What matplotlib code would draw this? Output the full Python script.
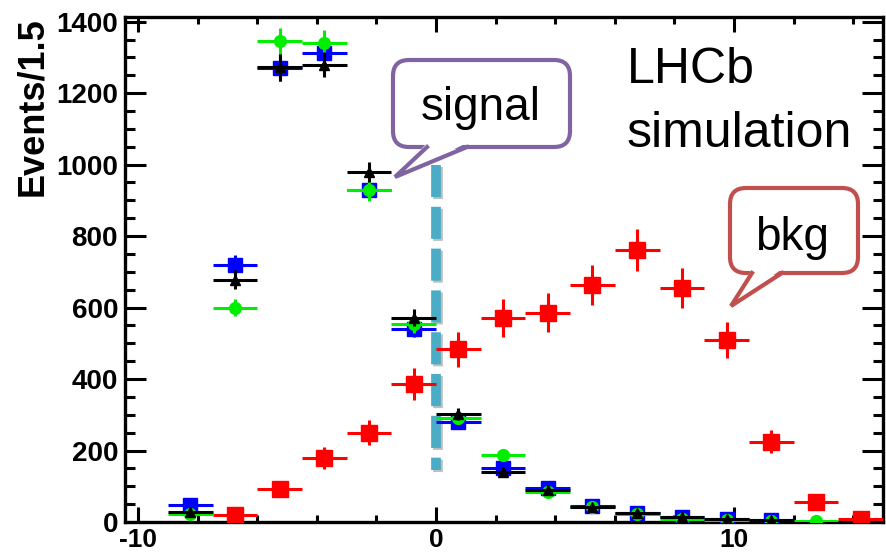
import numpy as np
import matplotlib
matplotlib.use("Agg")
import matplotlib.pyplot as plt
from matplotlib.patches import FancyBboxPatch, Polygon
from matplotlib.lines import Line2D
from matplotlib.ticker import MultipleLocator, FixedLocator
import matplotlib.transforms as mtrans
import matplotlib.patheffects as pe

plt.rcParams['font.family'] = ['Liberation Sans', 'DejaVu Sans']
plt.rcParams['axes.unicode_minus'] = False

# ---------------- data ----------------
bin_centers = [-8.25, -6.75, -5.25, -3.75, -2.25, -0.75, 0.75, 2.25,
               3.75, 5.25, 6.75, 8.25, 9.75, 11.25, 12.75, 14.25]
bin_half_width = 0.75

bkg = [np.nan, 19, 93, 179, 250, 386, 484, 571, 586, 663, 761, 654, 509, 225, 55, 8]
bkg_err = [np.nan, 10, 21, 31, 35, 44, 49, 53, 54, 57, 60, 56, 51, 32, 16, 6]

sig_blue = [47, 720, 1270, 1312, 930, 540, 280, 150, 94, 45, 24, 13, 8, 6, np.nan, np.nan]
sig_blue_err = [7, 27, 36, 36, 30, 23, 17, 12, 10, 7, 5, 4, 3, 2, np.nan, np.nan]

sig_black = [28, 678, 1272, 1280, 978, 572, 302, 141, 90, 42, 24, 13, 7, 5, np.nan, np.nan]
sig_black_err = [6, 26, 38, 36, 28, 24, 17, 12, 10, 7, 5, 4, 3, 2, np.nan, np.nan]

sig_green = [22, 600, 1345, 1340, 928, 553, 290, 187, 85, 43, 22, 9, 6, 4, 2, np.nan]
sig_green_err = [5, 25, 37, 37, 30, 24, 17, 14, 9, 7, 5, 3, 2, 2, 1, np.nan]

x_major_ticks = [-10, 0, 10]
y_major_ticks = [0, 200, 400, 600, 800, 1000, 1200, 1400]
y_label = "Events/1.5"
signal_line_x = 0
signal_line_range = (1000, 145)

# ---------------- figure ----------------
W, H = 887, 559
fig = plt.figure(figsize=(W / 100, H / 100), dpi=100)
ax = fig.add_axes([125 / W, 1 - 522 / H, (883 - 125) / W, (522 - 17) / H])
ax.set_xlim(-10.44, 15.0)
ax.set_ylim(0, 1413)

# background
ax.errorbar(bin_centers, bkg, xerr=bin_half_width, yerr=bkg_err, fmt='s',
            color='#ff0000', ms=11, elinewidth=2.2, capsize=0, zorder=3)
# signal samples
ax.errorbar(bin_centers, sig_blue, xerr=bin_half_width, yerr=sig_blue_err, fmt='s',
            color='#0000ff', ms=9.5, elinewidth=2.2, capsize=0, zorder=4)
ax.errorbar(bin_centers, sig_green, xerr=bin_half_width, yerr=sig_green_err, fmt='o',
            color='#00ee00', ms=8.5, elinewidth=2.2, capsize=0, zorder=5)
ax.errorbar(bin_centers, sig_black, xerr=bin_half_width, yerr=sig_black_err, fmt='^',
            color='black', ms=7.5, elinewidth=2.2, capsize=0, zorder=6)

# dashed signal line
ax.plot([signal_line_x, signal_line_x], list(signal_line_range), color='#4bacc6',
        lw=7, linestyle=(0, (3.3, 1.0)), zorder=2,
        path_effects=[pe.SimpleLineShadow(offset=(1.5, -1.5), alpha=0.25), pe.Normal()])

# axes styling
for s in ax.spines.values():
    s.set_linewidth(2.4)
ax.xaxis.set_major_locator(FixedLocator(x_major_ticks))
ax.xaxis.set_minor_locator(MultipleLocator(2))
ax.yaxis.set_major_locator(FixedLocator(y_major_ticks))
ax.yaxis.set_minor_locator(MultipleLocator(50))
ax.tick_params(axis='y', which='major', direction='in', length=15, width=2.2,
               right=True, labelsize=20, pad=5)
ax.tick_params(axis='y', which='minor', direction='in', length=7, width=2.2, right=True)
ax.tick_params(axis='x', which='major', direction='in', length=11, width=2.2,
               top=True, labelsize=19, pad=4)
ax.tick_params(axis='x', which='minor', direction='in', length=5, width=2.2, top=True)
for lab in ax.get_xticklabels() + ax.get_yticklabels():
    lab.set_fontweight('bold')

# pixel transform (top-left origin)
ptr = mtrans.Affine2D().scale(1 / 100, -1 / 100).translate(0, H / 100) + fig.dpi_scale_trans

fig.text(33, 17, y_label, transform=ptr, rotation=90, ha='center', va='top',
         fontsize=26, fontweight='bold')

fig.text(627, 83, "LHCb", transform=ptr, ha='left', va='baseline', fontsize=36)
fig.text(627, 147, "simulation", transform=ptr, ha='left', va='baseline', fontsize=36)


def callout(x0, y0, x1, y1, base_l, base_r, tip, color, text, tx, ty):
    box = FancyBboxPatch((x0, y0), x1 - x0, y1 - y0,
                         boxstyle="round,pad=0,rounding_size=16",
                         transform=ptr, facecolor='white', edgecolor=color,
                         linewidth=3, zorder=10)
    fig.add_artist(box)
    tail = Polygon([(base_l, y1 - 4), tip, (base_r, y1 - 4)], closed=True,
                   transform=ptr, facecolor='white', edgecolor='none', zorder=11)
    fig.add_artist(tail)
    ln = Line2D([base_l, tip[0], base_r], [y1, tip[1], y1], transform=ptr,
                color=color, lw=3, solid_joinstyle='miter', zorder=12)
    fig.add_artist(ln)
    fig.text(tx, ty, text, transform=ptr, ha='center', va='baseline',
             fontsize=33, zorder=13)


callout(393, 60, 570, 147, 427, 467, (395, 177), '#8064a2', "signal", 481, 120)
callout(730, 188, 858, 273, 752, 782, (731, 306), '#c0504d', "bkg", 792, 250)

fig.savefig("out.png", dpi=100)
